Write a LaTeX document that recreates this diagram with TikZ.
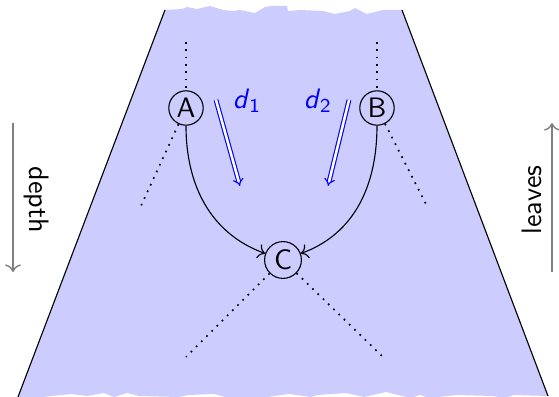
\documentclass[tikz,border=0pt]{standalone}
\usetikzlibrary{arrows.meta}
\begin{document}
\begin{tikzpicture}[
    x=0.0125cm, y=-0.0125cm,
    every node/.style={font=\sffamily},
    state/.style={circle, draw, minimum size=0.43cm, inner sep=0.5pt},
    dist/.style={blue, double, double distance=0.9pt, -{Implies}},
    side/.style={gray, line width=0.5pt, ->},
    branch/.style={dotted, semithick}
]
\useasboundingbox (0,0) rectangle (559,397);

% torn band
\fill[blue!20] (165,10) -- (182,9) -- (187,7) -- (197,9) -- (210,6) -- (223,10)
  -- (233,11) -- (240,10) -- (255,13) -- (265,7) -- (272,6) -- (287,6) -- (288,11)
  -- (300,10) -- (323,11) -- (335,14) -- (350,11) -- (355,8) -- (367,14) -- (383,10)
  -- (402,10) -- (548,396) -- (514,395) -- (504,398) -- (493,396) -- (457,395)
  -- (429,398) -- (420,395) -- (411,398) -- (398,395) -- (386,392) -- (364,397)
  -- (346,393) -- (318,395) -- (311,397) -- (289,394) -- (268,397) -- (225,397)
  -- (214,394) -- (188,395) -- (179,397) -- (139,396) -- (127,393) -- (114,397)
  -- (104,393) -- (87,396) -- (71,394) -- (43,397) -- (18,397) -- cycle;
\draw (165,10) -- (18,397);
\draw (402,10) -- (548,396);

% nodes
\node[state] (A) at (186,108) {A};
\node[state] (B) at (377,108) {B};
\node[state, minimum size=0.46cm] (C) at (283,260) {C};

\coordinate (a0) at (186,42);
\coordinate (a1) at (140,208);
\coordinate (b0) at (377,42);
\coordinate (b1) at (428,208);
\coordinate (c1) at (186,357);
\coordinate (c2) at (383,357);

\draw[branch] (a0) -- (A);
\draw[branch] (A) -- (a1);
\draw[branch] (b0) -- (B);
\draw[branch] (B) -- (b1);
\draw[branch] (C) -- (c1);
\draw[branch] (C) -- (c2);

\draw[->] (A) to[out=-90, in=160] (C);
\draw[->] (B) to[out=-90, in=20] (C);

% distances
\coordinate (d1s) at (216,100);
\coordinate (d1e) at (240,186);
\coordinate (d2s) at (349,100);
\coordinate (d2e) at (328,186);
\draw[dist] (d1s) -- (d1e);
\draw[dist] (d2s) -- (d2e);
\node[blue] (d1) at (247,101) {\textit{d}\textsubscript{1}};
\node[blue] (d2) at (318,101) {\textit{d}\textsubscript{2}};

% side arrows
\coordinate (dt) at (13,123);
\coordinate (db) at (13,272);
\coordinate (lb) at (552,272);
\coordinate (lt) at (552,123);
\draw[side] (dt) -- (db);
\draw[side] (lb) -- (lt);
\node[rotate=-90] (depth) at (37,200) {depth};
\node[rotate=90] (leaves) at (532,200) {leaves};

\end{tikzpicture}
\end{document}
